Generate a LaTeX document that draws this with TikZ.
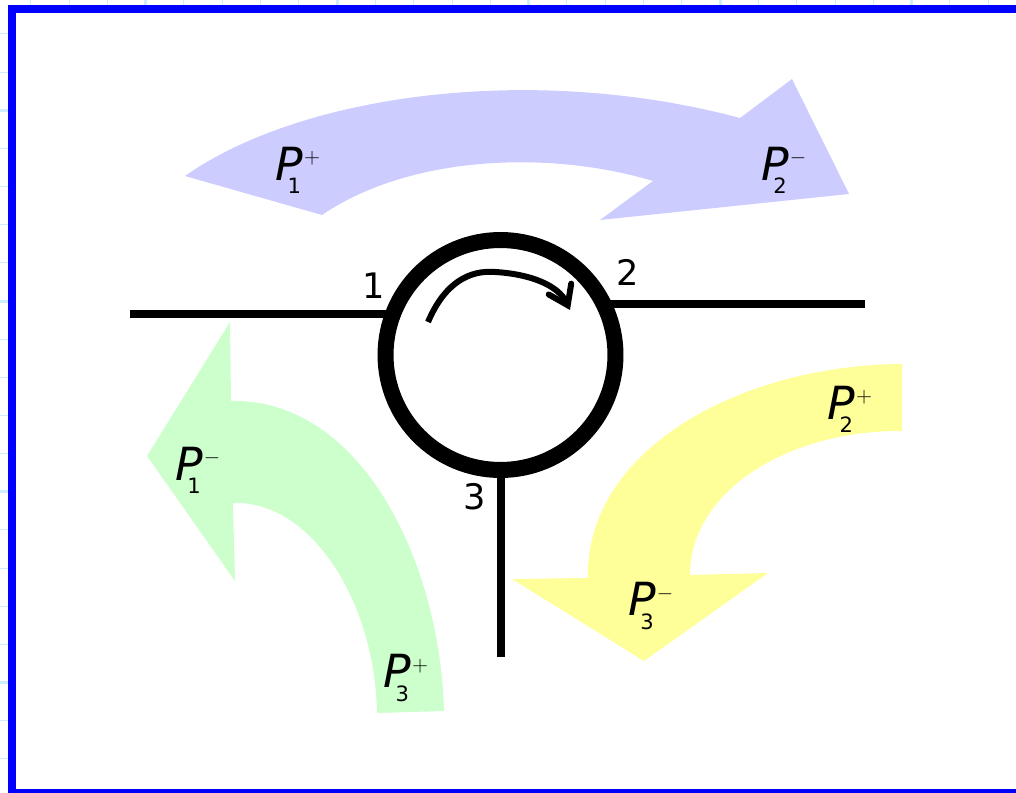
\documentclass[tikz,border=0pt]{standalone}
\usepackage{fontspec}
\setmainfont{DejaVu Sans}
\usetikzlibrary{arrows.meta}
\definecolor{frameBlue}{HTML}{0000FF}
\definecolor{gridBlue}{HTML}{CCEEFF}
\definecolor{wavePurple}{HTML}{CCCCFF}
\definecolor{waveYellow}{HTML}{FFFF99}
\definecolor{waveGreen}{HTML}{CCFFCC}
% one power label: letter, port number, sign
\newcommand{\powlabel}[2]{{\fontsize{26}{26}\selectfont\itshape P}\kern-9pt\raisebox{-7.5pt}{\fontsize{12}{12}\selectfont #1}\kern1.7pt\raisebox{9.5pt}{\fontsize{13}{13}\selectfont$#2$}}

\begin{document}
\begin{tikzpicture}[
    x=0.02cm, y=-0.02cm,
    ring/.style={circle, draw=black, line width=0.32cm, minimum size=4.6cm, inner sep=0pt, fill=white},
    port/.style={draw=black, line width=0.16cm},
    wave/.style={draw=none},
    powtext/.style={inner sep=0pt, text=black},
    portnum/.style={inner sep=0pt, font=\fontsize{20}{20}\selectfont, text=black}
  ]
  \clip (0,0) rectangle (1016,793);

  % grid ticks round the frame
  \foreach \i in {0,...,25} {
    \pgfmathtruncatemacro{\k}{mod(\i+2,5)==0 ? 1 : 0}
    \ifnum\k=1
      \draw[gridBlue, line width=0.06cm] ({30.7+38.3*\i},0) -- ({30.7+38.3*\i},6);
    \else
      \draw[gridBlue, line width=0.02cm] ({30.7+38.3*\i},0) -- ({30.7+38.3*\i},6);
    \fi
  }
  \foreach \i in {0,...,19} {
    \pgfmathtruncatemacro{\k}{mod(\i+3,5)==0 ? 1 : 0}
    \ifnum\k=1
      \draw[gridBlue, line width=0.06cm] (0,{34+38.15*\i}) -- (9,{34+38.15*\i});
    \else
      \draw[gridBlue, line width=0.02cm] (0,{34+38.15*\i}) -- (9,{34+38.15*\i});
    \fi
  }
  \draw[frameBlue, line width=0.16cm] (12,9) rectangle (1040,793);

  % travelling waves
  \fill[wavePurple, wave] (185,176) .. controls (300,95) and (530,62) .. (740,118)
    -- (792,79) -- (849,194) -- (600,220) -- (653,181)
    .. controls (550,150) and (410,155) .. (322,215) -- cycle;
  \fill[waveYellow, wave] (902,364) .. controls (740,365) and (585,450) .. (588,578)
    -- (512,579) -- (644,661) -- (768,573) -- (690,575)
    .. controls (690,490) and (790,430) .. (902,431) -- cycle;
  \fill[waveGreen, wave] (444,711) .. controls (440,560) and (360,398) .. (231,401)
    -- (230,322) -- (147,456) -- (235,581) -- (233,503)
    .. controls (310,500) and (375,600) .. (377,713) -- cycle;

  % circulator
  \coordinate (end1) at (130,314);
  \coordinate (end2) at (865,304);
  \coordinate (end3) at (500.5,657);
  \coordinate (in1) at (395,314);
  \coordinate (in2) at (605,304);
  \coordinate (in3) at (500.5,465);
  \draw[port] (end1) -- (in1);
  \draw[port] (end2) -- (in2);
  \draw[port] (end3) -- (in3);
  \node[ring] (circ) at (500.5,355) {};

  \coordinate (sweepA) at (428,322);
  \coordinate (sweepB) at (570,310);
  \draw[line width=0.12cm, -{Straight Barb[length=0.36cm, width=0.5cm, line cap=round]}]
    (sweepA) .. controls (445,282) and (470,270) .. (495,272)
    .. controls (530,274) and (558,285) .. (sweepB);

  \node[portnum] (num1) at (374,286) {1};
  \node[portnum] (num2) at (628,272) {2};
  \node[portnum] (num3) at (475,497) {3};

  \node[powtext] (pow1p) at (298,170) {\powlabel{1}{+}};
  \node[powtext] (pow2m) at (784,170) {\powlabel{2}{-}};
  \node[powtext] (pow2p) at (850,409) {\powlabel{2}{+}};
  \node[powtext] (pow3m) at (651,606) {\powlabel{3}{-}};
  \node[powtext] (pow1m) at (198,470) {\powlabel{1}{-}};
  \node[powtext] (pow3p) at (406,678) {\powlabel{3}{+}};
\end{tikzpicture}
\end{document}
